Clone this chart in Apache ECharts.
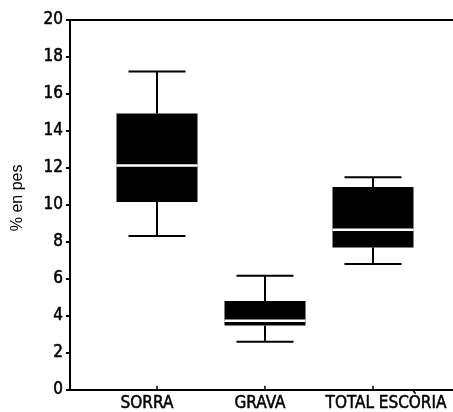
<!DOCTYPE html>
<html>
<head>
<meta charset="utf-8">
<script src="https://cdn.jsdelivr.net/npm/echarts@6/dist/echarts.min.js"></script>
<style>
html,body{margin:0;padding:0;background:#fff;}
#chart{width:453px;height:412px;}
</style>
</head>
<body>
<div id="chart"></div>
<script>
const categories = ['SORRA', 'GRAVA', 'TOTAL ESCÒRIA'];
const positions = [1, 2, 3];
const whiskerLow = [8.32, 2.60, 6.80];
const quartile1 = [10.16, 3.47, 7.70];
const medians = [12.13, 3.73, 8.65];
const quartile3 = [14.94, 4.80, 10.97];
const whiskerHigh = [17.21, 6.17, 11.50];
const yTickMin = 0, yTickMax = 20, yTickStep = 2;

const labelFont = 'DejaVu Sans Condensed, DejaVu Sans, sans-serif';
const labelSize = 17;

const rows = positions.map((p, i) => [p, whiskerLow[i], quartile1[i], medians[i], quartile3[i], whiskerHigh[i]]);

const chart = echarts.init(document.getElementById('chart'));
const BOX_W = 81, CAP_W = 57;
const richBase = { fontSize: labelSize, fontFamily: labelFont, color: '#000', textBorderColor: '#000', textBorderWidth: 0.5 };

chart.setOption({
  animation: false,
  backgroundColor: '#fff',
  grid: { left: 70, right: 0, top: 20, bottom: 19 },
  xAxis: [{
    type: 'value',
    min: 0.1944,
    max: 3.7407,
    position: 'bottom',
    splitLine: { show: false },
    axisLine: { show: true, onZero: false, lineStyle: { color: '#000', width: 2 } },
    axisTick: { show: true, inside: true, length: 4, customValues: positions, lineStyle: { color: '#000', width: 1.5 } },
    axisLabel: {
      show: true,
      customValues: positions,
      margin: 5,
      color: '#000',
      fontSize: labelSize,
      fontFamily: labelFont,
      formatter: function (v) { const i = positions.indexOf(v); return i >= 0 ? '{c' + i + '|' + categories[i] + '}' : ''; },
      rich: {
        c0: Object.assign({ padding: [0, 20, 0, 0] }, richBase),
        c1: Object.assign({ padding: [0, 10, 0, 0] }, richBase),
        c2: Object.assign({ padding: [0, 0, 0, 26] }, richBase)
      }
    }
  }, {
    type: 'value',
    min: 0.1944,
    max: 3.7407,
    position: 'top',
    splitLine: { show: false },
    axisLine: { show: true, onZero: false, lineStyle: { color: '#000', width: 2 } },
    axisTick: { show: false },
    axisLabel: { show: false }
  }],
  yAxis: {
    type: 'value',
    min: yTickMin,
    max: yTickMax,
    interval: yTickStep,
    name: '% en pes',
    nameLocation: 'middle',
    nameGap: 44,
    nameTextStyle: { color: '#000', fontSize: 16, fontFamily: 'Liberation Sans, Arial, sans-serif', padding: [0, 0, 0, 14] },
    splitLine: { show: false },
    axisLine: { show: true, lineStyle: { color: '#000', width: 2 } },
    axisTick: { show: true, length: 4, lineStyle: { color: '#000', width: 2 } },
    axisLabel: { margin: 7, color: '#000', fontSize: labelSize, fontFamily: labelFont, textBorderColor: '#000', textBorderWidth: 0.5 }
  },
  series: [{
    type: 'custom',
    xAxisIndex: 0,
    data: rows,
    encode: { x: 0, y: [1, 2, 3, 4, 5] },
    renderItem: function (params, api) {
      const x = api.value(0);
      const pLow = api.coord([x, api.value(1)]);
      const pQ1 = api.coord([x, api.value(2)]);
      const pMed = api.coord([x, api.value(3)]);
      const pQ3 = api.coord([x, api.value(4)]);
      const pHigh = api.coord([x, api.value(5)]);
      const c = pLow[0];
      const ls = { stroke: '#000', lineWidth: 2 };
      return {
        type: 'group',
        children: [
          { type: 'line', shape: { x1: c, y1: pLow[1], x2: c, y2: pQ1[1] }, style: ls },
          { type: 'line', shape: { x1: c, y1: pQ3[1], x2: c, y2: pHigh[1] }, style: ls },
          { type: 'line', shape: { x1: c - CAP_W / 2, y1: pLow[1], x2: c + CAP_W / 2, y2: pLow[1] }, style: ls },
          { type: 'line', shape: { x1: c - CAP_W / 2, y1: pHigh[1], x2: c + CAP_W / 2, y2: pHigh[1] }, style: ls },
          { type: 'rect', shape: { x: c - BOX_W / 2, y: pQ3[1], width: BOX_W, height: pQ1[1] - pQ3[1] }, style: { fill: '#000' } },
          { type: 'line', shape: { x1: c - BOX_W / 2, y1: pMed[1], x2: c + BOX_W / 2, y2: pMed[1] }, style: { stroke: '#fff', lineWidth: 2.5 } }
        ]
      };
    }
  }]
});
</script>
</body>
</html>
